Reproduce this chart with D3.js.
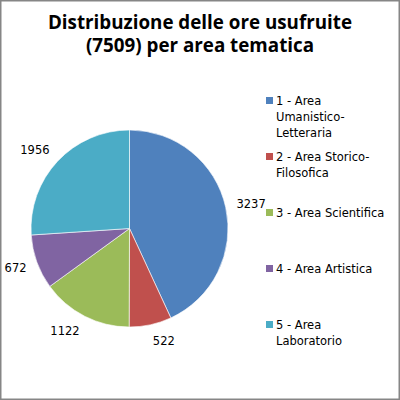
<!DOCTYPE html>
<html>
<head>
<meta charset="utf-8">
<script src="https://cdn.jsdelivr.net/npm/d3@7"></script>
<style>
  body { margin: 0; background: #fff; }
  svg { display: block; }
  .title { font-family: "Open Sans", Lato, sans-serif; font-weight: 700; font-size: 18.8px; fill: #000; }
  .lbl, .leg { font-family: "DejaVu Sans", sans-serif; font-size: 11.5px; fill: #000; }
</style>
</head>
<body>
<div id="chart"></div>
<script>
// values
var titleLines = ["Distribuzione delle ore usufruite", "(7509) per area tematica"];
var areas = ["1 - Area Umanistico-Letteraria", "2 - Area Storico-Filosofica", "3 - Area Scientifica", "4 - Area Artistica", "5 - Area Laboratorio"];
var legendLines = [["1 - Area", "Umanistico-", "Letteraria"], ["2 - Area Storico-", "Filosofica"], ["3 - Area Scientifica"], ["4 - Area Artistica"], ["5 - Area", "Laboratorio"]];
var hours = [3237, 522, 1122, 672, 1956];
var colors = ["#4F81BD", "#C0504D", "#9BBB59", "#8064A2", "#4BACC6"];

var W = 400, H = 400;
var cx = 129.5, cy = 228.5, radius = 98.5;

var svg = d3.select("#chart").append("svg")
    .attr("width", W)
    .attr("height", H);

// outer frame
svg.append("rect")
    .attr("x", 0.75).attr("y", 0.75)
    .attr("width", W - 1.5).attr("height", H - 1.5)
    .attr("fill", "#fff")
    .attr("stroke", "#868686")
    .attr("stroke-width", 1.5);

// title
svg.selectAll(".title")
    .data(titleLines)
    .enter()
    .append("text")
    .attr("class", "title")
    .attr("text-anchor", "middle")
    .attr("x", W / 2)
    .attr("y", function (d, i) { return 28.7 + i * 23.6; })
    .text(function (d) { return d; });

// pie
var pie = d3.pie().sort(null).value(function (d) { return d; });
var arcs = pie(hours);
var arc = d3.arc().innerRadius(0).outerRadius(radius);

var g = svg.append("g")
    .attr("transform", "translate(" + cx + "," + cy + ")");

g.selectAll("path")
    .data(arcs)
    .enter()
    .append("path")
    .attr("d", arc)
    .attr("fill", function (d, i) { return colors[i]; })
    .attr("stroke", "#fff")
    .attr("stroke-width", 0.6);

// data labels outside end (box pushed away from the pie)
var gap = 11;
g.selectAll(".lbl")
    .data(arcs)
    .enter()
    .append("text")
    .attr("class", "lbl")
    .text(function (d) { return d.data; })
    .each(function (d) {
        var a = (d.startAngle + d.endAngle) / 2;
        var ux = Math.sin(a), uy = -Math.cos(a);
        var w = this.getComputedTextLength(), h = 11;
        var px = ux * (radius + gap) + Math.sign(ux) * w / 2;
        var py = uy * (radius + gap + h / 2);
        d3.select(this)
            .attr("text-anchor", "middle")
            .attr("x", px)
            .attr("y", py + 4.2);
    });

// legend
var legend = svg.append("g");
var rowY = d3.scalePoint().domain(areas).range([101, 325]);

var item = legend.selectAll(".item")
    .data(areas)
    .enter()
    .append("g")
    .attr("class", "item")
    .attr("transform", function (d) { return "translate(266," + rowY(d) + ")"; });

item.append("rect")
    .attr("x", 0).attr("y", -4)
    .attr("width", 7).attr("height", 7)
    .attr("fill", function (d, i) { return colors[i]; });

item.append("text")
    .attr("class", "leg")
    .attr("x", 10)
    .attr("y", 4)
    .selectAll("tspan")
    .data(function (d, i) { return legendLines[i]; })
    .enter()
    .append("tspan")
    .attr("x", 10)
    .attr("dy", function (d, i) { return i === 0 ? 0 : 16; })
    .text(function (d) { return d; });
</script>
</body>
</html>
